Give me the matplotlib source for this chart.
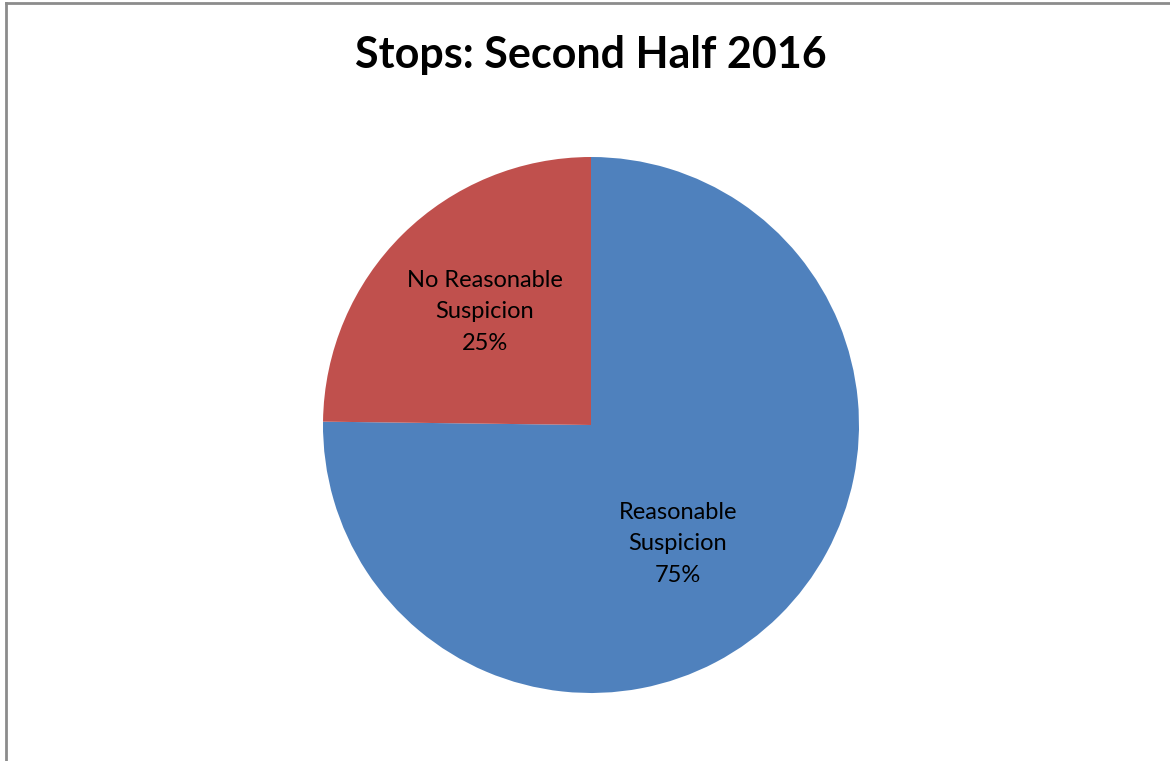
import matplotlib.pyplot as plt
from matplotlib.lines import Line2D

# datos
categorias = ["Reasonable\nSuspicion", "No Reasonable\nSuspicion"]
valores = [75.2, 24.8]
etiquetas_pct = ["75%", "25%"]
colores = ["#4F81BD", "#C0504D"]

plt.rcParams['font.family'] = ['Lato', 'DejaVu Sans']

fig = plt.figure(figsize=(11.7, 7.61), dpi=100)
W, H = 1170, 761

# marco gris (izquierda y arriba)
fig.add_artist(Line2D([5.5 / W, 5.5 / W], [0, 1 - 3 / H], transform=fig.transFigure,
                      color="#8c8c8c", lw=2))
fig.add_artist(Line2D([5.5 / W, 1], [1 - 3 / H, 1 - 3 / H], transform=fig.transFigure,
                      color="#8c8c8c", lw=2))

fig.text(591 / W, 1 - 55 / H, "Stops: Second Half 2016", ha="center", va="center",
         fontsize=31, fontweight="bold")

cx, cy, r = 591, 425, 268
ax = fig.add_axes([(cx - r) / W, (H - cy - r) / H, 2 * r / W, 2 * r / H])
wedges, _ = ax.pie(valores, colors=colores, startangle=90, counterclock=False,
                   wedgeprops=dict(linewidth=0))
ax.set_xlim(-1, 1)
ax.set_ylim(-1, 1)
ax.set_aspect("equal")

# posiciones de etiquetas (px en la imagen)
pos = [(678, 544), (485, 312)]
for (px, py), cat, pct in zip(pos, categorias, etiquetas_pct):
    ax.text((px - cx) / r, (cy - py) / r, cat + "\n" + pct, ha="center", va="center",
            fontsize=17, linespacing=1.6, color="black")

fig.savefig("out.png", dpi=100)
